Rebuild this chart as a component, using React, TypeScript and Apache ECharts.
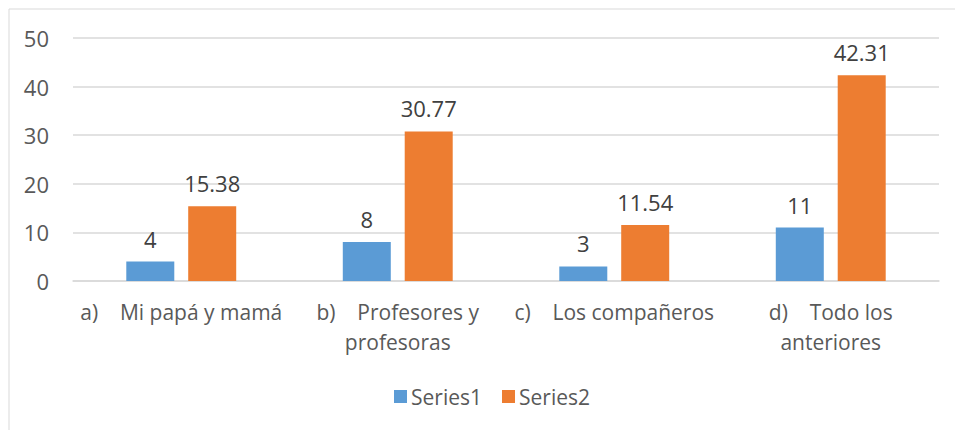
import React, { useEffect, useRef } from "react";
import * as echarts from "echarts";

const categories = [
  "a)\u00a0\u00a0\u00a0\u00a0Mi papá y mamá",
  "b)\u00a0\u00a0\u00a0\u00a0Profesores y\nprofesoras",
  "c)\u00a0\u00a0\u00a0\u00a0Los compañeros",
  "d)\u00a0\u00a0\u00a0\u00a0Todo los\nanteriores",
];
const series1 = [4, 8, 3, 11];
const series2 = [15.38, 30.77, 11.54, 42.31];
const seriesNames = ["Series1", "Series2"];
const yTicks = { min: 0, max: 50, interval: 10 };

const FONT = "'Open Sans', 'Noto Sans', sans-serif";

export default function App() {
  const ref = useRef<HTMLDivElement>(null);
  useEffect(() => {
    if (!ref.current) return;
    const chart = echarts.init(ref.current, undefined, { renderer: "svg" });
    chart.setOption({
      animation: false,
      textStyle: { fontFamily: FONT },
      graphic: [
        {
          type: "rect",
          shape: { x: 9, y: 9, width: 960, height: 440 },
          style: { fill: "none", stroke: "#d9d9d9", lineWidth: 1 },
          silent: true,
        },
      ],
      grid: { left: 73, right: 16, top: 38, bottom: 149 },
      legend: {
        data: seriesNames,
        top: 381,
        left: 389,
        itemWidth: 13,
        itemHeight: 13,
        itemGap: 20,
        icon: "rect",
        textStyle: { fontFamily: FONT, fontSize: 21, color: "#595959", padding: [0, 0, 0, -1] },
      },
      xAxis: {
        type: "category",
        data: categories,
        axisLine: { lineStyle: { color: "#d9d9d9", width: 1.5 } },
        axisTick: { show: false },
        axisLabel: {
          interval: 0,
          margin: 16,
          fontFamily: FONT,
          fontSize: 21,
          lineHeight: 30,
          color: "#595959",
        },
      },
      yAxis: {
        type: "value",
        min: yTicks.min,
        max: yTicks.max,
        interval: yTicks.interval,
        axisLine: { show: false },
        axisTick: { show: false },
        splitLine: { lineStyle: { color: "#d9d9d9", width: 1.5 } },
        axisLabel: { margin: 24, fontFamily: FONT, fontSize: 22, color: "#595959" },
      },
      series: [
        {
          name: seriesNames[0],
          type: "bar",
          data: series1,
          barWidth: 48,
          barGap: "29%",
          itemStyle: { color: "#5b9bd5" },
          label: {
            show: true,
            position: "top",
            distance: 12,
            fontFamily: FONT,
            fontSize: 22,
            color: "#404040",
          },
        },
        {
          name: seriesNames[1],
          type: "bar",
          data: series2,
          barWidth: 48,
          itemStyle: { color: "#ed7d31" },
          label: {
            show: true,
            position: "top",
            distance: 12,
            fontFamily: FONT,
            fontSize: 22,
            color: "#404040",
          },
        },
      ],
    });
    return () => chart.dispose();
  }, []);
  return <div ref={ref} style={{ width: 955, height: 430, position: "absolute", left: 0, top: 0 }} />;
}
